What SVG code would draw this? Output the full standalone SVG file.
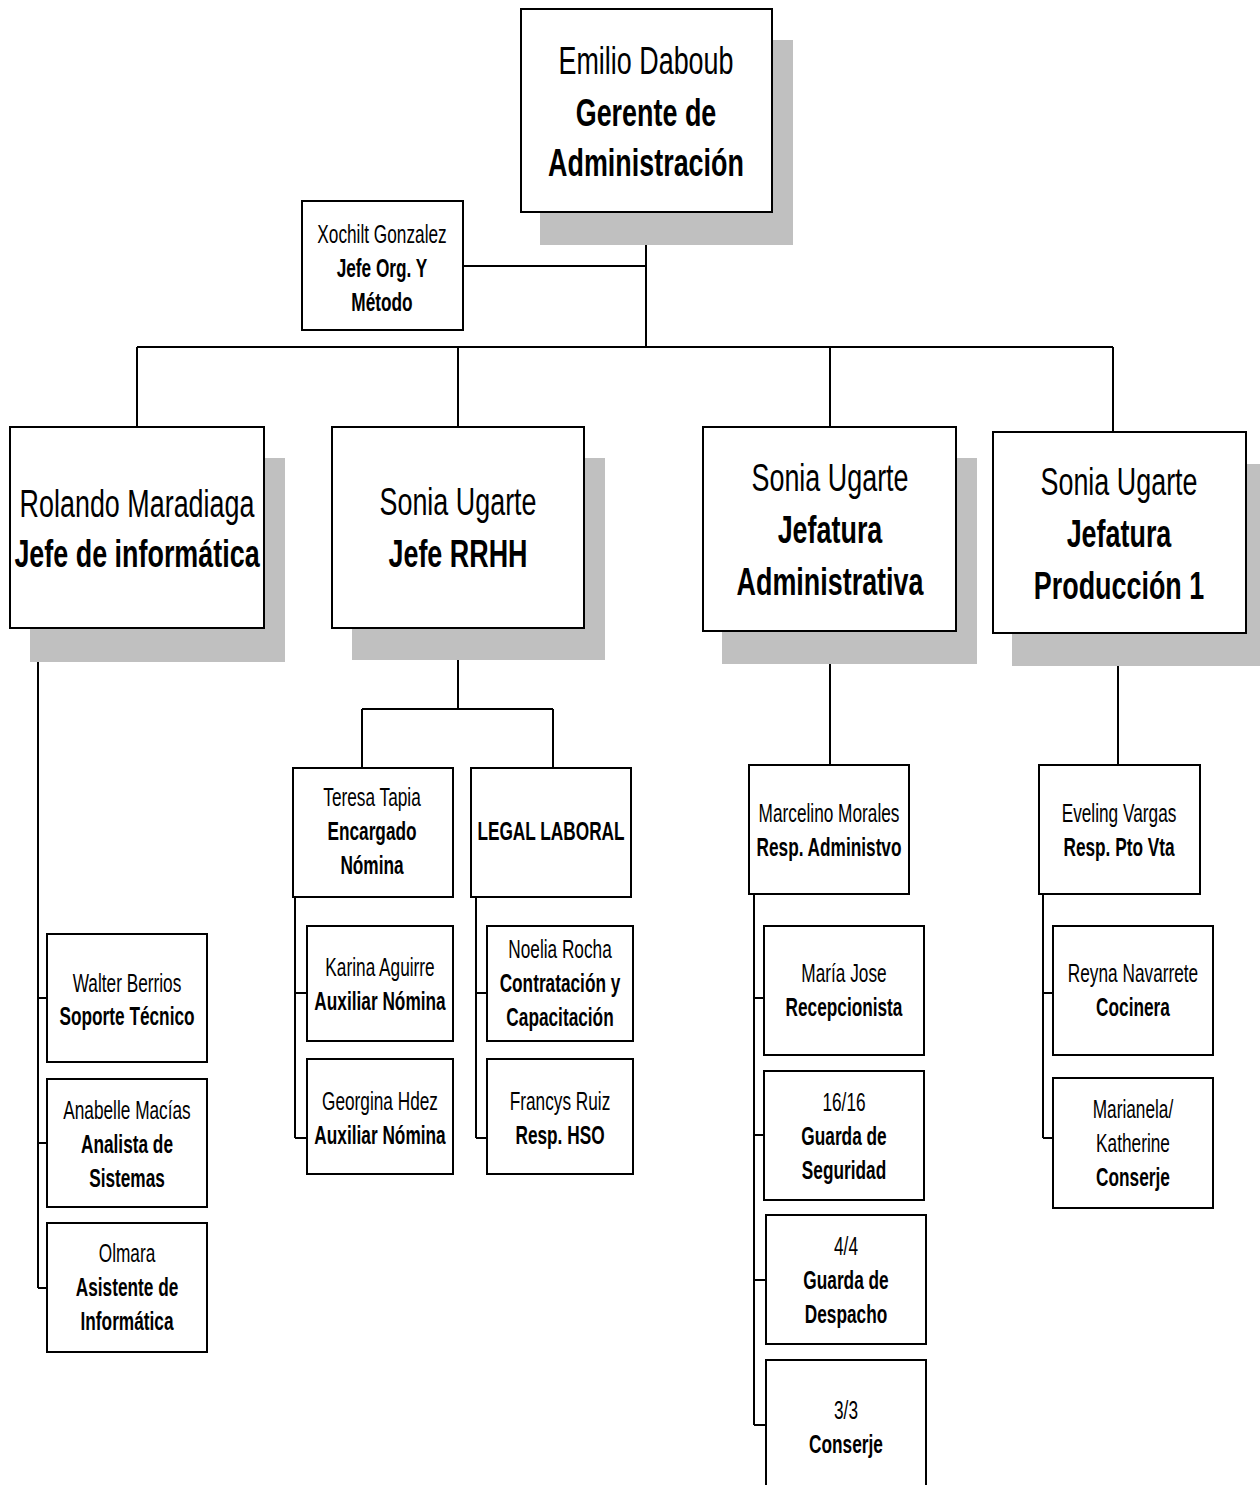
<svg xmlns="http://www.w3.org/2000/svg" width="1260" height="1485" viewBox="0 0 1260 1485">
<style>
.bg{fill:#ffffff}
.sh{fill:#c0c0c0;stroke:none}
.bx{fill:#ffffff;stroke:#000000;stroke-width:2}
.ln{fill:none;stroke:#000000;stroke-width:2}
text{font-family:"Liberation Sans",Arial,sans-serif;fill:#000000;text-anchor:middle}
.L{font-size:39px}
.S{font-size:25px}
.b{font-weight:bold}
</style>
<rect class="bg" x="0" y="0" width="1260" height="1485"/>
<g id="connectors">
<path class="ln" d="M646,212 V347 M463,266 H646 M137,347 H1113 M137,347 V427 M458,347 V427 M830,347 V427 M1113,347 V432"/>
<path class="ln" d="M38,628 V1288 M38,998 H47 M38,1143 H47 M38,1288 H47"/>
<path class="ln" d="M458,628 V709 M362,709 H553 M362,709 V768 M553,709 V768"/>
<path class="ln" d="M295,897 V1138 M295,993 H307 M295,1138 H307 M476,897 V1138 M476,993 H487 M476,1138 H487"/>
<path class="ln" d="M830,631 V765 M754,894 V1425 M754,998 H764 M754,1135 H764 M754,1280 H766 M754,1425 H766"/>
<path class="ln" d="M1118,633 V765 M1043,894 V1138 M1043,993 H1053 M1043,1138 H1053"/>
</g>
<g id="emilio">
<rect class="sh" x="540" y="40" width="253" height="205"/>
<rect class="bx" x="521" y="9" width="251" height="203"/>
<text class="L" transform="matrix(.69 0 0 1 646 0)" y="74">Emilio Daboub</text>
<text class="L b" transform="matrix(.69 0 0 1 646 0)" y="126">Gerente de</text>
<text class="L b" transform="matrix(.69 0 0 1 646 0)" y="176">Administración</text>
</g>
<g id="xochilt">
<rect class="bx" x="302" y="201" width="161" height="129"/>
<text class="S" transform="matrix(.69 0 0 1 382 0)" y="243">Xochilt Gonzalez</text>
<text class="S b" transform="matrix(.69 0 0 1 382 0)" y="277">Jefe Org. Y</text>
<text class="S b" transform="matrix(.69 0 0 1 382 0)" y="311">Método</text>
</g>
<g id="rolando">
<rect class="sh" x="30" y="458" width="255" height="204"/>
<rect class="bx" x="10" y="427" width="254" height="201"/>
<text class="L" transform="matrix(.69 0 0 1 137 0)" y="517">Rolando Maradiaga</text>
<text class="L b" transform="matrix(.69 0 0 1 137 0)" y="567">Jefe de informática</text>
</g>
<g id="rrhh">
<rect class="sh" x="352" y="458" width="253" height="202"/>
<rect class="bx" x="332" y="427" width="252" height="201"/>
<text class="L" transform="matrix(.69 0 0 1 458 0)" y="515">Sonia Ugarte</text>
<text class="L b" transform="matrix(.69 0 0 1 458 0)" y="567">Jefe RRHH</text>
</g>
<g id="jef-admin">
<rect class="sh" x="722" y="458" width="255" height="206"/>
<rect class="bx" x="703" y="427" width="253" height="204"/>
<text class="L" transform="matrix(.69 0 0 1 830 0)" y="491">Sonia Ugarte</text>
<text class="L b" transform="matrix(.69 0 0 1 830 0)" y="543">Jefatura</text>
<text class="L b" transform="matrix(.69 0 0 1 830 0)" y="595">Administrativa</text>
</g>
<g id="jef-prod">
<rect class="sh" x="1012" y="464" width="250" height="202"/>
<rect class="bx" x="993" y="432" width="253" height="201"/>
<text class="L" transform="matrix(.69 0 0 1 1119 0)" y="495">Sonia Ugarte</text>
<text class="L b" transform="matrix(.69 0 0 1 1119 0)" y="547">Jefatura</text>
<text class="L b" transform="matrix(.69 0 0 1 1119 0)" y="599">Producción 1</text>
</g>
<g id="walter">
<rect class="bx" x="47" y="934" width="160" height="128"/>
<text class="S" transform="matrix(.69 0 0 1 127 0)" y="992">Walter Berrios</text>
<text class="S b" transform="matrix(.69 0 0 1 127 0)" y="1025">Soporte Técnico</text>
</g>
<g id="anabelle">
<rect class="bx" x="47" y="1079" width="160" height="128"/>
<text class="S" transform="matrix(.69 0 0 1 127 0)" y="1119">Anabelle Macías</text>
<text class="S b" transform="matrix(.69 0 0 1 127 0)" y="1153">Analista de</text>
<text class="S b" transform="matrix(.69 0 0 1 127 0)" y="1187">Sistemas</text>
</g>
<g id="olmara">
<rect class="bx" x="47" y="1223" width="160" height="129"/>
<text class="S" transform="matrix(.69 0 0 1 127 0)" y="1262">Olmara</text>
<text class="S b" transform="matrix(.69 0 0 1 127 0)" y="1296">Asistente de</text>
<text class="S b" transform="matrix(.69 0 0 1 127 0)" y="1330">Informática</text>
</g>
<g id="teresa">
<rect class="bx" x="293" y="768" width="160" height="129"/>
<text class="S" transform="matrix(.69 0 0 1 372 0)" y="806">Teresa Tapia</text>
<text class="S b" transform="matrix(.69 0 0 1 372 0)" y="840">Encargado</text>
<text class="S b" transform="matrix(.69 0 0 1 372 0)" y="874">Nómina</text>
</g>
<g id="legal">
<rect class="bx" x="471" y="768" width="160" height="129"/>
<text class="S b" transform="matrix(.69 0 0 1 551 0)" y="840">LEGAL LABORAL</text>
</g>
<g id="karina">
<rect class="bx" x="307" y="926" width="146" height="115"/>
<text class="S" transform="matrix(.69 0 0 1 380 0)" y="976">Karina Aguirre</text>
<text class="S b" transform="matrix(.69 0 0 1 380 0)" y="1010">Auxiliar Nómina</text>
</g>
<g id="georgina">
<rect class="bx" x="307" y="1059" width="146" height="115"/>
<text class="S" transform="matrix(.69 0 0 1 380 0)" y="1110">Georgina Hdez</text>
<text class="S b" transform="matrix(.69 0 0 1 380 0)" y="1144">Auxiliar Nómina</text>
</g>
<g id="noelia">
<rect class="bx" x="487" y="926" width="146" height="115"/>
<text class="S" transform="matrix(.69 0 0 1 560 0)" y="958">Noelia Rocha</text>
<text class="S b" transform="matrix(.69 0 0 1 560 0)" y="992">Contratación y</text>
<text class="S b" transform="matrix(.69 0 0 1 560 0)" y="1026">Capacitación</text>
</g>
<g id="francys">
<rect class="bx" x="487" y="1059" width="146" height="115"/>
<text class="S" transform="matrix(.69 0 0 1 560 0)" y="1110">Francys Ruiz</text>
<text class="S b" transform="matrix(.69 0 0 1 560 0)" y="1144">Resp. HSO</text>
</g>
<g id="marcelino">
<rect class="bx" x="749" y="765" width="160" height="129"/>
<text class="S" transform="matrix(.69 0 0 1 829 0)" y="822">Marcelino Morales</text>
<text class="S b" transform="matrix(.69 0 0 1 829 0)" y="856">Resp. Administvo</text>
</g>
<g id="maria">
<rect class="bx" x="764" y="926" width="160" height="129"/>
<text class="S" transform="matrix(.69 0 0 1 844 0)" y="982">María Jose</text>
<text class="S b" transform="matrix(.69 0 0 1 844 0)" y="1016">Recepcionista</text>
</g>
<g id="guarda-seg">
<rect class="bx" x="764" y="1071" width="160" height="129"/>
<text class="S" transform="matrix(.69 0 0 1 844 0)" y="1111">16/16</text>
<text class="S b" transform="matrix(.69 0 0 1 844 0)" y="1145">Guarda de</text>
<text class="S b" transform="matrix(.69 0 0 1 844 0)" y="1179">Seguridad</text>
</g>
<g id="guarda-desp">
<rect class="bx" x="766" y="1215" width="160" height="129"/>
<text class="S" transform="matrix(.69 0 0 1 846 0)" y="1255">4/4</text>
<text class="S b" transform="matrix(.69 0 0 1 846 0)" y="1289">Guarda de</text>
<text class="S b" transform="matrix(.69 0 0 1 846 0)" y="1323">Despacho</text>
</g>
<g id="conserje-admin">
<rect class="bx" x="766" y="1360" width="160" height="140"/>
<text class="S" transform="matrix(.69 0 0 1 846 0)" y="1419">3/3</text>
<text class="S b" transform="matrix(.69 0 0 1 846 0)" y="1453">Conserje</text>
</g>
<g id="eveling">
<rect class="bx" x="1039" y="765" width="161" height="129"/>
<text class="S" transform="matrix(.69 0 0 1 1119 0)" y="822">Eveling Vargas</text>
<text class="S b" transform="matrix(.69 0 0 1 1119 0)" y="856">Resp. Pto Vta</text>
</g>
<g id="reyna">
<rect class="bx" x="1053" y="926" width="160" height="129"/>
<text class="S" transform="matrix(.69 0 0 1 1133 0)" y="982">Reyna Navarrete</text>
<text class="S b" transform="matrix(.69 0 0 1 1133 0)" y="1016">Cocinera</text>
</g>
<g id="marianela">
<rect class="bx" x="1053" y="1078" width="160" height="130"/>
<text class="S" transform="matrix(.69 0 0 1 1133 0)" y="1118">Marianela/</text>
<text class="S" transform="matrix(.69 0 0 1 1133 0)" y="1152">Katherine</text>
<text class="S b" transform="matrix(.69 0 0 1 1133 0)" y="1186">Conserje</text>
</g>
</svg>
